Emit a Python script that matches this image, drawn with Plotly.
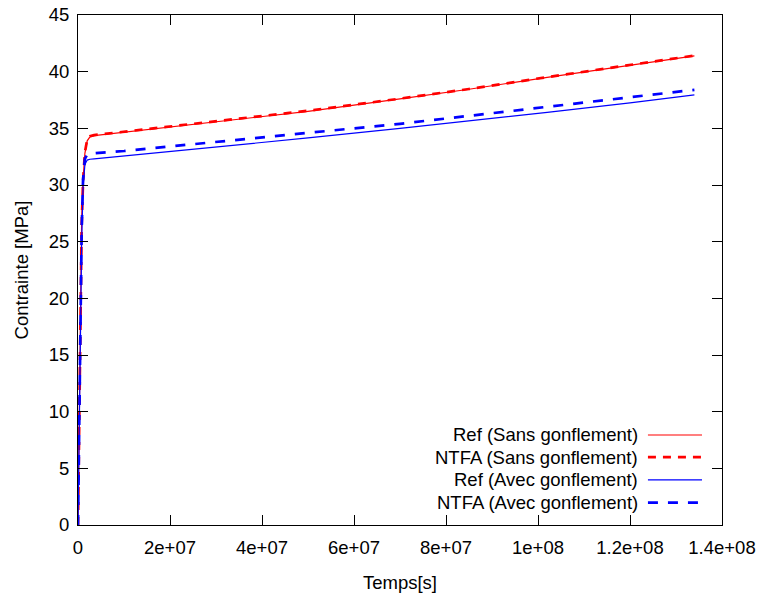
import plotly.graph_objects as go

# ---- data ----
time_s = [0, 2e5, 5e5, 8e5, 1.1e6, 1.5e6, 2e6, 2.6e6, 3.5e6, 1e7, 2e7, 3.5e7,
          5e7, 7e7, 8.5e7, 1.02e8, 1.2e8, 1.34e8]
ref_sans = [0, 8, 19, 27, 30.5, 32.8, 33.9, 34.25, 34.35, 34.65, 35.05, 35.75,
            36.5, 37.6, 38.45, 39.5, 40.6, 41.4]
ntfa_sans = [0, 7, 18, 26.5, 30.3, 32.9, 34.0, 34.3, 34.4, 34.7, 35.1, 35.8,
             36.55, 37.62, 38.47, 39.52, 40.62, 41.42]
ref_avec = [0, 7, 17, 25, 29.8, 31.8, 32.2, 32.27, 32.3, 32.55, 32.95, 33.55,
            34.15, 35.0, 35.65, 36.4, 37.25, 37.95]
ntfa_avec = [0, 7.5, 18, 26, 30.5, 32.3, 32.7, 32.8, 32.8, 33.0, 33.4, 34.0,
             34.6, 35.4, 36.1, 36.9, 37.75, 38.4]

series_names = ["Ref (Sans gonflement)", "NTFA (Sans gonflement)",
                "Ref (Avec gonflement)", "NTFA (Avec gonflement)"]

x_tickvals = [0, 2e7, 4e7, 6e7, 8e7, 1e8, 1.2e8, 1.4e8]
x_ticktext = ["0", "2e+07", "4e+07", "6e+07", "8e+07", "1e+08", "1.2e+08", "1.4e+08"]
y_tickvals = [0, 5, 10, 15, 20, 25, 30, 35, 40, 45]

# ---- styles ----
styles = [
    dict(color="#ff0000", width=1.2, dash="solid"),
    dict(color="#ff0000", width=2.7, dash="8px,7px"),
    dict(color="#0000ff", width=1.2, dash="solid"),
    dict(color="#0000ff", width=2.7, dash="10px,10px"),
]
values = [ref_sans, ntfa_sans, ref_avec, ntfa_avec]
FONT = "Liberation Sans, Arial, sans-serif"
FS = 18.5

fig = go.Figure()
for name, v, st in zip(series_names, values, styles):
    fig.add_trace(go.Scatter(x=time_s, y=v, mode="lines", name=name,
                             line=st, showlegend=False, hoverinfo="skip"))

# custom legend (gnuplot style: right-aligned text, sample on right)
leg_y = [0.1765, 0.133, 0.0885, 0.044]
for name, st, yy in zip(series_names, styles, leg_y):
    fig.add_annotation(x=0.873, y=yy, xref="paper", yref="paper", text=name,
                       showarrow=False, xanchor="right", yanchor="middle",
                       font=dict(family=FONT, size=FS, color="black"))
    fig.add_shape(type="line", xref="paper", yref="paper",
                  x0=0.885, x1=0.969, y0=yy, y1=yy,
                  line=dict(color=st["color"], width=st["width"], dash=st["dash"]))

axis_common = dict(showline=True, linecolor="black", linewidth=1, mirror="allticks",
                   ticks="inside", ticklen=10, tickcolor="black", tickwidth=1,
                   showgrid=False, zeroline=False, automargin=False,
                   ticklabeloverflow="allow",
                   tickfont=dict(family=FONT, size=FS, color="black"))

fig.update_layout(
    width=758, height=594,
    margin=dict(l=78, r=36, t=15, b=69),
    plot_bgcolor="white", paper_bgcolor="white",
    font=dict(family=FONT, size=FS, color="black"),
    xaxis=dict(range=[0, 1.4e8], tickmode="array", tickvals=x_tickvals,
               ticktext=x_ticktext, ticklabelstandoff=6,
               title=dict(text="Temps[s]", standoff=18,
                          font=dict(family=FONT, size=FS)),
               **axis_common),
    yaxis=dict(range=[0, 45], tickmode="array", tickvals=y_tickvals,
               ticklabelstandoff=4,
               title=dict(text="Contrainte [MPa]", standoff=15,
                          font=dict(family=FONT, size=FS)),
               **axis_common),
)

# remove the browser's default 8px body margin so the figure fills the window
fig.write_html("out.html",
               config={"displayModeBar": False},
               post_script="document.body.style.margin='0px';")
